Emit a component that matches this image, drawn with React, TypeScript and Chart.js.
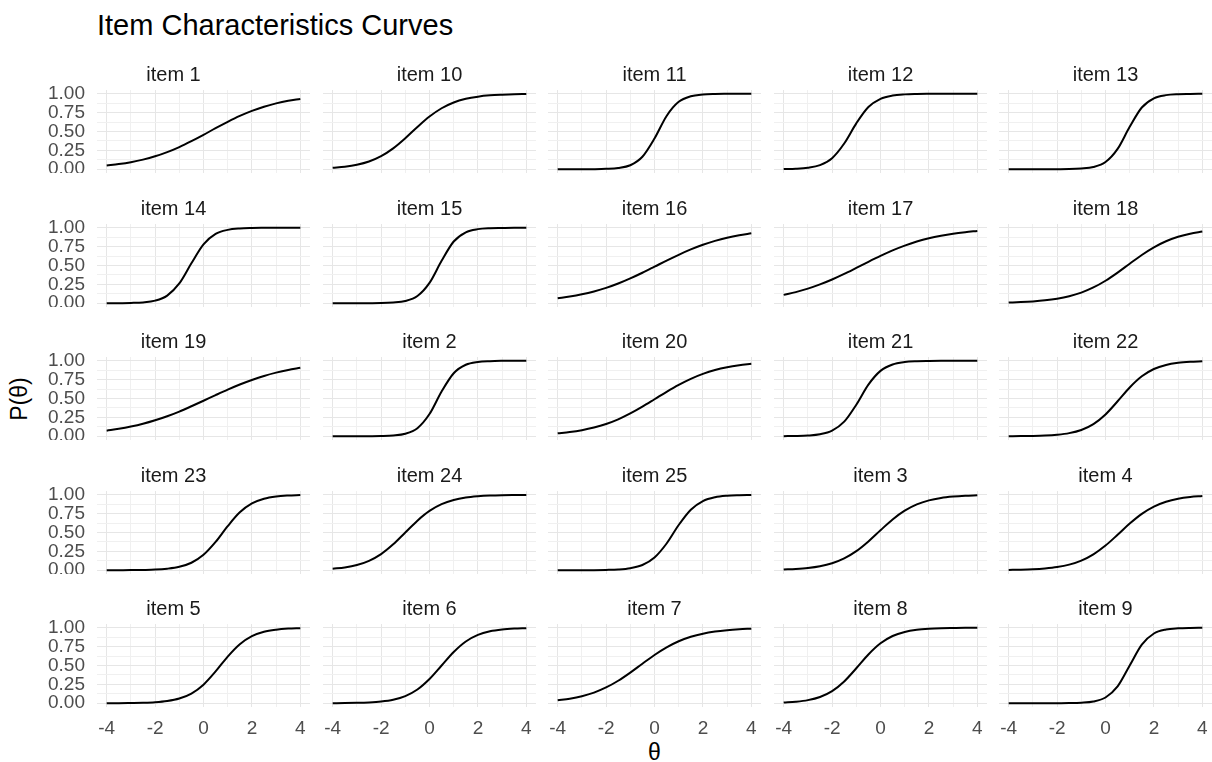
import React, { useEffect, useRef } from 'react';
import { Chart, registerables } from 'chart.js';

Chart.register(...registerables);

const FONT = "'Liberation Sans', Arial, sans-serif";

// theta grid shared by every curve
const THETA = [-4, -3.5, -3, -2.5, -2, -1.5, -1, -0.5, 0, 0.5, 1, 1.5, 2, 2.5, 3, 3.5, 4];

// P(theta)
const ITEM_1 = [0.049, 0.068, 0.093, 0.127, 0.171, 0.227, 0.294, 0.372, 0.456, 0.544, 0.628, 0.706, 0.773, 0.829, 0.873, 0.907, 0.932];
const ITEM_10 = [0.019, 0.034, 0.060, 0.103, 0.174, 0.277, 0.411, 0.560, 0.698, 0.808, 0.885, 0.933, 0.962, 0.979, 0.988, 0.994, 0.996];
const ITEM_11 = [0, 0, 0, 0.001, 0.005, 0.016, 0.053, 0.165, 0.407, 0.706, 0.893, 0.967, 0.990, 0.997, 0.999, 1, 1];
const ITEM_12 = [0.002, 0.006, 0.019, 0.054, 0.147, 0.341, 0.608, 0.824, 0.933, 0.977, 0.992, 0.997, 0.999, 1, 1, 1, 1];
const ITEM_13 = [0, 0, 0, 0, 0.001, 0.002, 0.009, 0.029, 0.095, 0.269, 0.562, 0.818, 0.940, 0.982, 0.995, 0.998, 1];
const ITEM_14 = [0, 0.001, 0.004, 0.011, 0.034, 0.101, 0.262, 0.529, 0.780, 0.918, 0.972, 0.991, 0.997, 0.999, 1, 1, 1];
const ITEM_15 = [0, 0, 0, 0.001, 0.002, 0.009, 0.029, 0.095, 0.269, 0.562, 0.818, 0.940, 0.982, 0.995, 0.998, 1, 1];
const ITEM_16 = [0.065, 0.088, 0.118, 0.156, 0.203, 0.261, 0.329, 0.404, 0.484, 0.565, 0.642, 0.713, 0.775, 0.826, 0.868, 0.901, 0.927];
const ITEM_17 = [0.111, 0.147, 0.193, 0.249, 0.314, 0.388, 0.468, 0.549, 0.627, 0.700, 0.763, 0.817, 0.861, 0.895, 0.922, 0.942, 0.958];
const ITEM_18 = [0.009, 0.015, 0.024, 0.038, 0.060, 0.093, 0.141, 0.209, 0.298, 0.406, 0.524, 0.639, 0.740, 0.821, 0.880, 0.922, 0.950];
const ITEM_19 = [0.074, 0.098, 0.128, 0.165, 0.211, 0.265, 0.327, 0.397, 0.470, 0.545, 0.618, 0.686, 0.746, 0.799, 0.843, 0.879, 0.907];
const ITEM_2 = [0, 0, 0, 0.001, 0.003, 0.010, 0.033, 0.107, 0.294, 0.593, 0.835, 0.947, 0.984, 0.995, 0.999, 1, 1];
const ITEM_20 = [0.038, 0.055, 0.080, 0.115, 0.162, 0.224, 0.302, 0.392, 0.490, 0.589, 0.681, 0.761, 0.826, 0.877, 0.914, 0.940, 0.959];
const ITEM_21 = [0.001, 0.003, 0.009, 0.026, 0.074, 0.193, 0.418, 0.684, 0.866, 0.951, 0.983, 0.994, 0.998, 1, 1, 1, 1];
const ITEM_22 = [0.001, 0.002, 0.004, 0.009, 0.020, 0.041, 0.083, 0.161, 0.289, 0.463, 0.646, 0.794, 0.891, 0.945, 0.973, 0.987, 0.994];
const ITEM_23 = [0, 0.001, 0.002, 0.004, 0.008, 0.020, 0.045, 0.099, 0.204, 0.375, 0.584, 0.767, 0.885, 0.947, 0.977, 0.990, 0.996];
const ITEM_24 = [0.020, 0.037, 0.069, 0.125, 0.214, 0.343, 0.5, 0.657, 0.786, 0.875, 0.931, 0.963, 0.980, 0.990, 0.995, 0.997, 0.998];
const ITEM_25 = [0, 0, 0, 0.001, 0.004, 0.010, 0.027, 0.069, 0.168, 0.354, 0.599, 0.802, 0.917, 0.968, 0.988, 0.995, 0.998];
const ITEM_3 = [0.009, 0.017, 0.030, 0.053, 0.093, 0.157, 0.253, 0.382, 0.530, 0.673, 0.789, 0.872, 0.926, 0.958, 0.976, 0.987, 0.993];
const ITEM_4 = [0.004, 0.007, 0.013, 0.024, 0.042, 0.074, 0.128, 0.211, 0.327, 0.470, 0.618, 0.747, 0.843, 0.907, 0.947, 0.970, 0.983];
const ITEM_5 = [0.001, 0.001, 0.003, 0.006, 0.013, 0.029, 0.062, 0.128, 0.246, 0.421, 0.618, 0.782, 0.889, 0.947, 0.975, 0.989, 0.995];
const ITEM_6 = [0.001, 0.002, 0.005, 0.011, 0.023, 0.047, 0.095, 0.182, 0.321, 0.5, 0.679, 0.818, 0.905, 0.953, 0.977, 0.989, 0.995];
const ITEM_7 = [0.038, 0.060, 0.093, 0.141, 0.209, 0.298, 0.406, 0.524, 0.639, 0.740, 0.821, 0.880, 0.922, 0.950, 0.968, 0.980, 0.988];
const ITEM_8 = [0.009, 0.020, 0.041, 0.083, 0.161, 0.289, 0.463, 0.646, 0.794, 0.891, 0.945, 0.973, 0.987, 0.994, 0.997, 0.999, 0.999];
const ITEM_9 = [0, 0, 0, 0, 0.001, 0.002, 0.007, 0.023, 0.076, 0.223, 0.5, 0.777, 0.924, 0.977, 0.993, 0.998, 0.999];

// facet order (alphabetical, as in the reference)
const PANEL_LABELS = [
  'item 1', 'item 10', 'item 11', 'item 12', 'item 13',
  'item 14', 'item 15', 'item 16', 'item 17', 'item 18',
  'item 19', 'item 2', 'item 20', 'item 21', 'item 22',
  'item 23', 'item 24', 'item 25', 'item 3', 'item 4',
  'item 5', 'item 6', 'item 7', 'item 8', 'item 9',
];
const PANEL_VALUES = [
  ITEM_1, ITEM_10, ITEM_11, ITEM_12, ITEM_13,
  ITEM_14, ITEM_15, ITEM_16, ITEM_17, ITEM_18,
  ITEM_19, ITEM_2, ITEM_20, ITEM_21, ITEM_22,
  ITEM_23, ITEM_24, ITEM_25, ITEM_3, ITEM_4,
  ITEM_5, ITEM_6, ITEM_7, ITEM_8, ITEM_9,
];

const X_GRID = [-4, -3, -2, -1, 0, 1, 2, 3, 4];
const X_LABELS = [-4, -2, 0, 2, 4];
const Y_GRID = [0, 0.125, 0.25, 0.375, 0.5, 0.625, 0.75, 0.875, 1];
const Y_LABELS = [0, 0.25, 0.5, 0.75, 1];

// layout (pixels)
const LEFT0 = 97;
const TOP0 = 90;
const PANEL_W = 213;
const PANEL_H = 83;
const COL_STEP = 225.5;
const ROW_STEP = 133.5;
const STRIP_H = 27;
const Y_AXIS_W = 60;
const X_AXIS_H = 36;
const TICK_SIZE = 19;
const STRIP_SIZE = 20;

function Panel({ idx }: { idx: number }) {
  const ref = useRef<HTMLCanvasElement>(null);
  const col = idx % 5;
  const row = Math.floor(idx / 5);
  const leftExtra = col === 0 ? Y_AXIS_W : 0;
  const bottomExtra = row === 4 ? X_AXIS_H : 0;
  const w = PANEL_W + leftExtra;
  const h = STRIP_H + PANEL_H + bottomExtra;
  const left = Math.round(LEFT0 + col * COL_STEP) - leftExtra;
  const top = Math.round(TOP0 + row * ROW_STEP) - STRIP_H;

  useEffect(() => {
    const canvas = ref.current;
    if (!canvas) return;
    const vals = PANEL_VALUES[idx];
    const isMajorX = (v: number) => X_LABELS.includes(v);
    const isMajorY = (v: number) => Y_LABELS.some((l) => Math.abs(l - v) < 1e-9);
    const chart = new Chart(canvas, {
      type: 'line',
      data: {
        datasets: [
          {
            data: THETA.map((t, i) => ({ x: t, y: vals[i] })),
            borderColor: '#000000',
            borderWidth: 2,
            pointRadius: 0,
            fill: false,
            cubicInterpolationMode: 'monotone',
          },
        ],
      },
      options: {
        animation: false,
        responsive: false,
        maintainAspectRatio: false,
        devicePixelRatio: 1,
        layout: { padding: 0 },
        plugins: {
          legend: { display: false },
          tooltip: { enabled: false },
          title: {
            display: true,
            text: PANEL_LABELS[idx],
            color: '#1a1a1a',
            font: { family: FONT, size: STRIP_SIZE, weight: 'normal', lineHeight: 1.2 },
            padding: { top: 0, bottom: STRIP_H - STRIP_SIZE * 1.2 },
          },
        },
        scales: {
          x: {
            type: 'linear',
            min: -4.4,
            max: 4.4,
            border: { display: false },
            grid: {
              drawTicks: false,
              color: (ctx: any) => (isMajorX(ctx.tick?.value) ? '#e6e6e6' : '#f0f0f0'),
              lineWidth: 1,
            },
            afterBuildTicks: (scale: any) => {
              scale.ticks = X_GRID.map((v) => ({ value: v }));
            },
            afterFit: (scale: any) => {
              scale.height = row === 4 ? X_AXIS_H : 0;
              scale.paddingLeft = 0;
              scale.paddingRight = 0;
            },
            ticks: {
              display: row === 4,
              autoSkip: false,
              maxRotation: 0,
              padding: 10,
              color: '#4d4d4d',
              font: { family: FONT, size: TICK_SIZE },
              callback: (v: any) => (X_LABELS.includes(Number(v)) ? String(v) : ''),
            },
          },
          y: {
            type: 'linear',
            min: -0.05,
            max: 1.05,
            border: { display: false },
            grid: {
              drawTicks: false,
              color: (ctx: any) => (isMajorY(ctx.tick?.value) ? '#e6e6e6' : '#f0f0f0'),
              lineWidth: 1,
            },
            afterBuildTicks: (scale: any) => {
              scale.ticks = Y_GRID.map((v) => ({ value: v }));
            },
            afterFit: (scale: any) => {
              scale.width = col === 0 ? Y_AXIS_W : 0;
              scale.paddingTop = 0;
              scale.paddingBottom = 0;
            },
            ticks: {
              display: col === 0,
              autoSkip: false,
              padding: 12,
              color: '#4d4d4d',
              font: { family: FONT, size: TICK_SIZE, lineHeight: 1 },
              callback: (v: any) => (isMajorY(Number(v)) ? Number(v).toFixed(2) : ''),
            },
          },
        },
      },
    } as any);
    return () => chart.destroy();
  }, [idx]);

  return (
    <canvas
      ref={ref}
      width={w}
      height={h}
      style={{ position: 'absolute', left, top, width: w, height: h, display: 'block' }}
    />
  );
}

export default function App() {
  const centerY = TOP0 + (4 * ROW_STEP + PANEL_H) / 2;
  const centerX = LEFT0 + (4 * COL_STEP + PANEL_W) / 2;
  return (
    <div
      style={{
        position: 'fixed',
        left: 0,
        top: 0,
        width: 1212,
        height: 762,
        background: '#ffffff',
        overflow: 'hidden',
        fontFamily: FONT,
      }}
    >
      <div
        style={{
          position: 'absolute',
          left: 97,
          top: 10.5,
          fontSize: 29,
          lineHeight: '29px',
          color: '#000000',
          whiteSpace: 'nowrap',
        }}
      >
        Item Characteristics Curves
      </div>
      <div
        style={{
          position: 'absolute',
          left: 19,
          top: centerY,
          fontSize: 23,
          color: '#000000',
          whiteSpace: 'nowrap',
          transform: 'translate(-50%, -50%) rotate(-90deg)',
        }}
      >
        P(θ)
      </div>
      <div
        style={{
          position: 'absolute',
          left: centerX,
          top: 752,
          fontSize: 23,
          color: '#000000',
          whiteSpace: 'nowrap',
          transform: 'translate(-50%, -50%)',
        }}
      >
        θ
      </div>
      {PANEL_LABELS.map((_, i) => (
        <Panel key={i} idx={i} />
      ))}
    </div>
  );
}
